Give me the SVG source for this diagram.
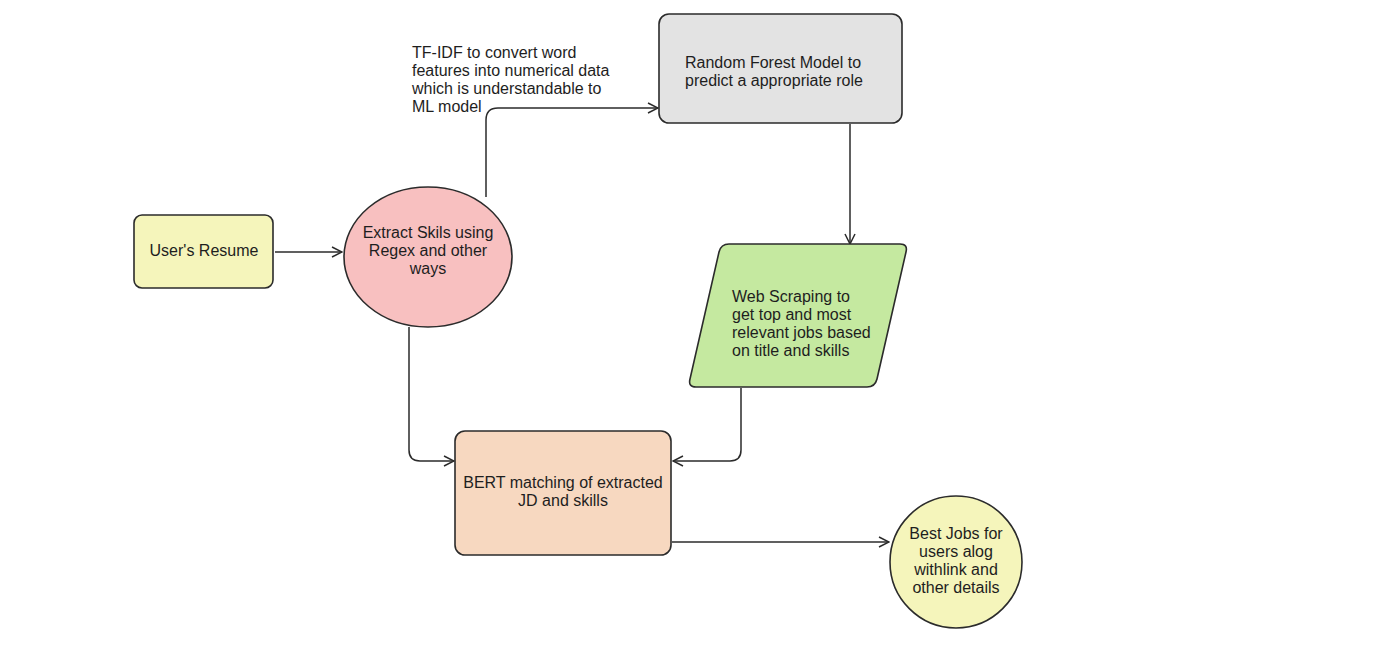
<svg xmlns="http://www.w3.org/2000/svg" width="1383" height="648" viewBox="0 0 1383 648">
<style>
.n{stroke:#2b2b2b;stroke-width:1.6}
.t{font-family:"Liberation Sans",Arial,sans-serif;font-size:16px;fill:#1e1e1e}
.c{text-anchor:middle}
.e{fill:none;stroke:#2b2b2b;stroke-width:1.5}
</style>
<defs>
<marker id="a" viewBox="0 0 12 12" refX="11" refY="6" markerWidth="12" markerHeight="12" markerUnits="userSpaceOnUse" orient="auto">
<path d="M1,1 L11,6 L1,11" fill="none" stroke="#2b2b2b" stroke-width="1.5"/>
</marker>
</defs>
<rect width="1383" height="648" fill="#ffffff"/>
<g id="edges">
<path class="e" d="M275,252 H342" marker-end="url(#a)"/>
<path class="e" d="M486,197 V120 Q486,108 498,108 H658" marker-end="url(#a)"/>
<path class="e" d="M850,124 V244" marker-end="url(#a)"/>
<path class="e" d="M741,388 V450 Q741,461 730,461 H673" marker-end="url(#a)"/>
<path class="e" d="M409,327 V450 Q409,461 420,461 H454" marker-end="url(#a)"/>
<path class="e" d="M672,542 H889" marker-end="url(#a)"/>
</g>
<g id="resume">
<rect class="n" x="134" y="215" width="139" height="73" rx="8" fill="#f5f5bb"/>
<text class="t c" x="204" y="256">User's Resume</text>
</g>
<g id="extract">
<ellipse class="n" cx="428" cy="257" rx="84" ry="70" fill="#f8c0c0"/>
<text class="t c" x="428" y="238">Extract Skils using</text>
<text class="t c" x="428" y="256">Regex and other</text>
<text class="t c" x="428" y="274">ways</text>
</g>
<g id="tfidf">
<text class="t" x="412" y="58">TF-IDF to convert word</text>
<text class="t" x="412" y="76">features into numerical data</text>
<text class="t" x="412" y="94">which is understandable to</text>
<text class="t" x="412" y="112">ML model</text>
</g>
<g id="rf">
<rect class="n" x="659" y="14" width="243" height="109" rx="10" fill="#e3e3e3"/>
<text class="t" x="685" y="68">Random Forest Model to</text>
<text class="t" x="685" y="86">predict a appropriate role</text>
</g>
<g id="web">
<path class="n" d="M729,244 H900 Q908,244 906,252 L877,379 Q875,387 867,387 H696 Q688,387 690,379 L719,252 Q721,244 729,244 Z" fill="#c5e9a0"/>
<text class="t" x="732" y="302">Web Scraping to</text>
<text class="t" x="732" y="320">get top and most</text>
<text class="t" x="732" y="338">relevant jobs based</text>
<text class="t" x="732" y="356">on title and skills</text>
</g>
<g id="bert">
<rect class="n" x="455" y="431" width="216" height="124" rx="10" fill="#f7d8c0"/>
<text class="t c" x="563" y="488">BERT matching of extracted</text>
<text class="t c" x="563" y="506">JD and skills</text>
</g>
<g id="best">
<ellipse class="n" cx="956" cy="562" rx="66" ry="66" fill="#f5f5bb"/>
<text class="t c" x="956" y="539">Best Jobs for</text>
<text class="t c" x="956" y="557">users alog</text>
<text class="t c" x="956" y="575">withlink and</text>
<text class="t c" x="956" y="593">other details</text>
</g>
</svg>
